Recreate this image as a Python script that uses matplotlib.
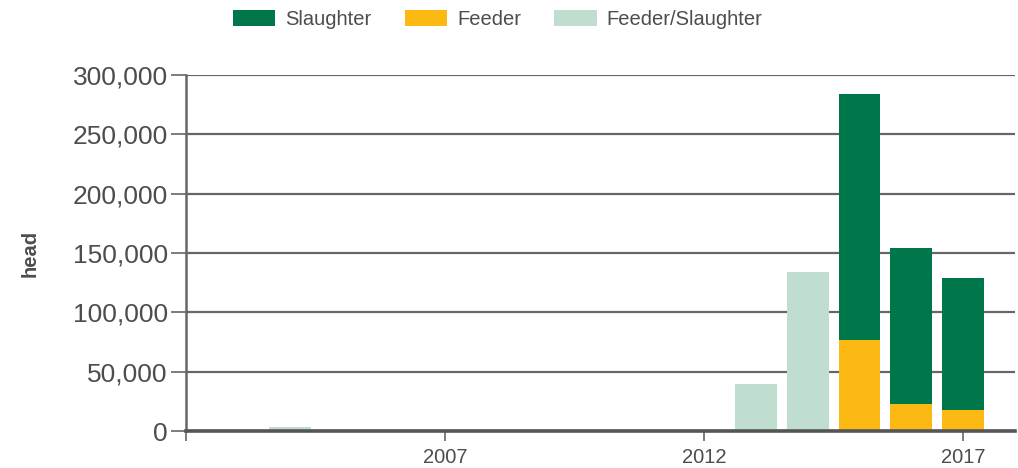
import matplotlib
matplotlib.use("Agg")
import matplotlib.pyplot as plt
from matplotlib.ticker import FuncFormatter

plt.rcParams["font.family"] = ["Liberation Sans", "DejaVu Sans"]

years = list(range(2003, 2018))
slaughter = [0, 0, 0, 0, 0, 0, 0, 0, 0, 0, 0, 0, 207200, 131900, 110900]
feeder = [0, 0, 0, 0, 0, 0, 0, 0, 0, 0, 0, 0, 76700, 22500, 17700]
feeder_slaughter = [0, 3500, 0, 0, 0, 0, 0, 0, 0, 0, 39600, 134200, 0, 0, 0]

x_ticks = [2002, 2007, 2012, 2017]
x_labels = ["", "2007", "2012", "2017"]
y_ticks = [0, 50000, 100000, 150000, 200000, 250000, 300000]

C_SL = "#00774a"
C_FE = "#fdb913"
C_FS = "#c0ded0"
TXT = "#4d4d4d"
GRID = "#666666"

fig = plt.figure(figsize=(10.18, 4.68), dpi=100)
ax = fig.add_axes([0.1827, 0.079, 0.8143, 0.7607])

w = 0.81
ax.bar(years, feeder_slaughter, w, color=C_FS, label="Feeder/Slaughter", zorder=3)
ax.bar(years, feeder, w, color=C_FE, label="Feeder", zorder=3)
ax.bar(years, slaughter, w, bottom=feeder, color=C_SL, label="Slaughter", zorder=3)

ax.set_xlim(2002, 2018)
ax.set_ylim(0, 300000)
ax.set_yticks(y_ticks)
ax.yaxis.set_major_formatter(FuncFormatter(lambda v, p: f"{int(v):,}"))
ax.set_xticks(x_ticks)
ax.set_xticklabels(x_labels)
ax.grid(axis="y", color=GRID, lw=1.6, zorder=1)
ax.set_axisbelow(True)

for s in ["top", "right"]:
    ax.spines[s].set_visible(False)
ax.spines["left"].set_color(GRID)
ax.spines["left"].set_linewidth(1.8)
ax.spines["bottom"].set_color("#555555")
ax.spines["bottom"].set_linewidth(2.6)
ax.spines["bottom"].set_zorder(4)

ax.tick_params(axis="y", length=11, width=1.2, color=GRID, labelsize=19,
               labelcolor=TXT, pad=2)
ax.tick_params(axis="x", length=7, width=1.2, color=GRID, labelsize=14.5,
               labelcolor=TXT, pad=5)
ax.set_ylabel("head", fontsize=14.5, fontweight="bold", color=TXT, labelpad=24)

h, l = ax.get_legend_handles_labels()
order = [2, 1, 0]
leg = fig.legend([h[i] for i in order], [l[i] for i in order], loc="upper center",
                 bbox_to_anchor=(0.489, 1.018), ncol=3, frameon=False, fontsize=14.5,
                 handlelength=2.1, handleheight=0.9, handletextpad=0.5,
                 columnspacing=1.65, labelcolor=TXT)

fig.savefig("out.png", dpi=100)
